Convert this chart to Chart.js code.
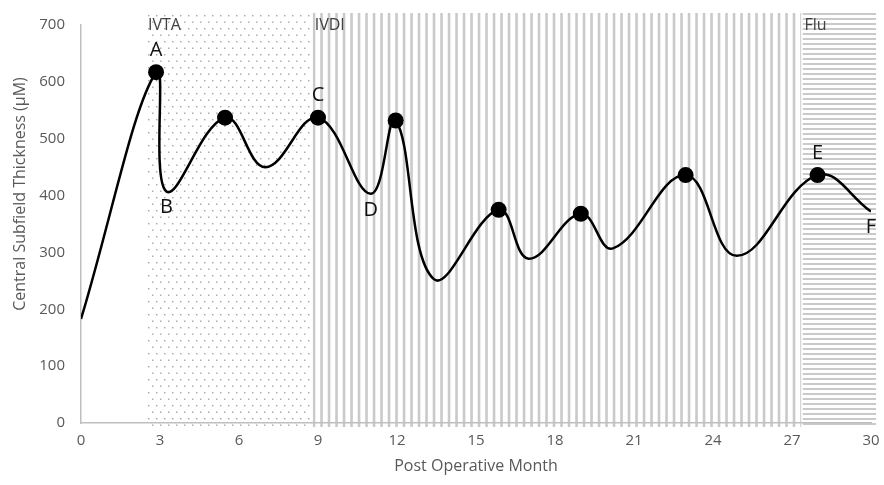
<!DOCTYPE html>
<html>
<head>
<meta charset="utf-8">
<script src="https://cdn.jsdelivr.net/npm/chart.js@4"></script>
<style>
  html, body { margin: 0; padding: 0; background: #fff; }
  #wrap { width: 884px; height: 485px; }
</style>
</head>
<body>
<div id="wrap"><canvas id="cst-chart"></canvas></div>
<script>
// curve through the measured thickness values
const months = [0, 2.85, 3.25, 5.47, 7.0, 9.0, 11.0, 11.95, 13.4, 15.86, 17.0, 18.98, 20.2, 22.96, 24.9, 27.97, 30];
const thickness = [183, 617, 407, 537, 450, 537, 403, 532, 253, 375, 289, 368, 307, 436, 294, 436, 372];

// visits drawn as black dots
const visitMonths = [2.85, 5.47, 9.0, 11.95, 15.86, 18.98, 22.96, 27.97];
const visitThickness = [617, 537, 537, 532, 375, 368, 436, 436];

// letters A-F, pointing at entries of the curve
const letterText = ['A', 'B', 'C', 'D', 'E', 'F'];
const letterIndex = [1, 2, 5, 6, 15, 16];
const letterAbove = [true, false, true, false, true, false];

// treatment phases
const phaseNames = ['IVTA', 'IVDI', 'Flu'];
const phaseStart = [2.47, 8.8, 27.4];
const phaseEnd = [8.73, 27.35, 30.2];

const xTicks = [0, 3, 6, 9, 12, 15, 18, 21, 24, 27, 30];
const yTicks = [0, 100, 200, 300, 400, 500, 600, 700];

const FONT = "'Open Sans', sans-serif";

const phasePlugin = {
  id: 'phases',
  beforeDraw(chart) {
    const ctx = chart.ctx;
    const x = chart.scales.x;
    const area = chart.chartArea;
    const top = area.top - 12;
    const bottom = area.bottom + 4;
    ctx.save();
    phaseNames.forEach((name, i) => {
      const left = x.getPixelForValue(phaseStart[i]);
      const right = x.getPixelForValue(phaseEnd[i]);
      ctx.save();
      ctx.beginPath();
      ctx.rect(left, top, right - left, bottom - top);
      ctx.clip();
      if (i === 0) {
        ctx.fillStyle = '#a3a3a3';
        let row = 0;
        for (let y = top + 2; y < bottom; y += 6.5) {
          const off = (row % 2) * 4;
          for (let px = left + 2 + off; px < right; px += 8) {
            ctx.fillRect(px, y, 1.4, 1.4);
          }
          row++;
        }
      } else if (i === 1) {
        ctx.fillStyle = '#cacaca';
        for (let px = left; px < right; px += 7.5) {
          ctx.fillRect(px, top, 2.6, bottom - top);
        }
      } else {
        ctx.fillStyle = '#cacaca';
        for (let y = top; y < bottom; y += 5) {
          ctx.fillRect(left, y, right - left, 2);
        }
      }
      ctx.restore();
      ctx.fillStyle = '#404040';
      ctx.font = '16px ' + FONT;
      ctx.textAlign = 'left';
      ctx.textBaseline = 'alphabetic';
      ctx.fillText(name, left + 2, top + 17);
    });

    // y axis title
    ctx.translate(20, 194);
    ctx.rotate(-Math.PI / 2);
    ctx.fillStyle = '#595959';
    ctx.font = '16px ' + FONT;
    ctx.textAlign = 'center';
    ctx.textBaseline = 'middle';
    ctx.fillText('Central Subfield Thickness (\u03BCM)', 0, 0);
    ctx.restore();
  },
  afterDatasetsDraw(chart) {
    const ctx = chart.ctx;
    const x = chart.scales.x;
    const y = chart.scales.y;
    ctx.save();
    ctx.fillStyle = '#111';
    ctx.font = '20px ' + FONT;
    ctx.textAlign = 'center';
    ctx.textBaseline = 'middle';
    letterText.forEach((t, i) => {
      const k = letterIndex[i];
      const px = x.getPixelForValue(months[k]);
      const py = y.getPixelForValue(thickness[k]);
      ctx.fillText(t, px, letterAbove[i] ? py - 22 : py + 16);
    });
    ctx.restore();
  }
};

new Chart(document.getElementById('cst-chart'), {
  type: 'line',
  data: {
    datasets: [
      {
        label: 'Visits',
        data: visitMonths.map((m, i) => ({ x: m, y: visitThickness[i] })),
        showLine: false,
        pointRadius: 8,
        pointBackgroundColor: '#000',
        pointBorderColor: '#000',
        pointBorderWidth: 0
      },
      {
        label: 'CST',
        data: months.map((m, i) => ({ x: m, y: thickness[i] })),
        borderColor: '#000',
        borderWidth: 2.5,
        tension: 0.4,
        pointRadius: 0,
        fill: false
      }
    ]
  },
  options: {
    responsive: true,
    maintainAspectRatio: false,
    animation: false,
    layout: { padding: { top: 22, right: 13, left: 0, bottom: 0 } },
    plugins: {
      legend: { display: false },
      tooltip: { enabled: false }
    },
    scales: {
      x: {
        type: 'linear',
        min: 0,
        max: 30,
        afterBuildTicks: s => { s.ticks = xTicks.map(v => ({ value: v })); },
        afterFit: s => { s.height = 62; s.paddingLeft = 0; s.paddingRight = 0; },
        grid: { drawOnChartArea: false, drawTicks: false },
        border: { color: '#bfbfbf', width: 1.5 },
        ticks: { color: '#595959', font: { family: FONT, size: 15 }, padding: 9, maxRotation: 0 },
        title: {
          display: true,
          text: 'Post Operative Month',
          color: '#595959',
          font: { family: FONT, size: 16 },
          padding: { top: 0, bottom: 9 }
        }
      },
      y: {
        min: 0,
        max: 700,
        afterBuildTicks: s => { s.ticks = yTicks.map(v => ({ value: v })); },
        afterFit: s => { s.width = 81; },
        grid: { drawOnChartArea: false, drawTicks: false },
        border: { color: '#bfbfbf', width: 1.5 },
        ticks: { color: '#595959', font: { family: FONT, size: 15 }, padding: 16 }
      }
    }
  },
  plugins: [phasePlugin]
});
</script>
</body>
</html>
